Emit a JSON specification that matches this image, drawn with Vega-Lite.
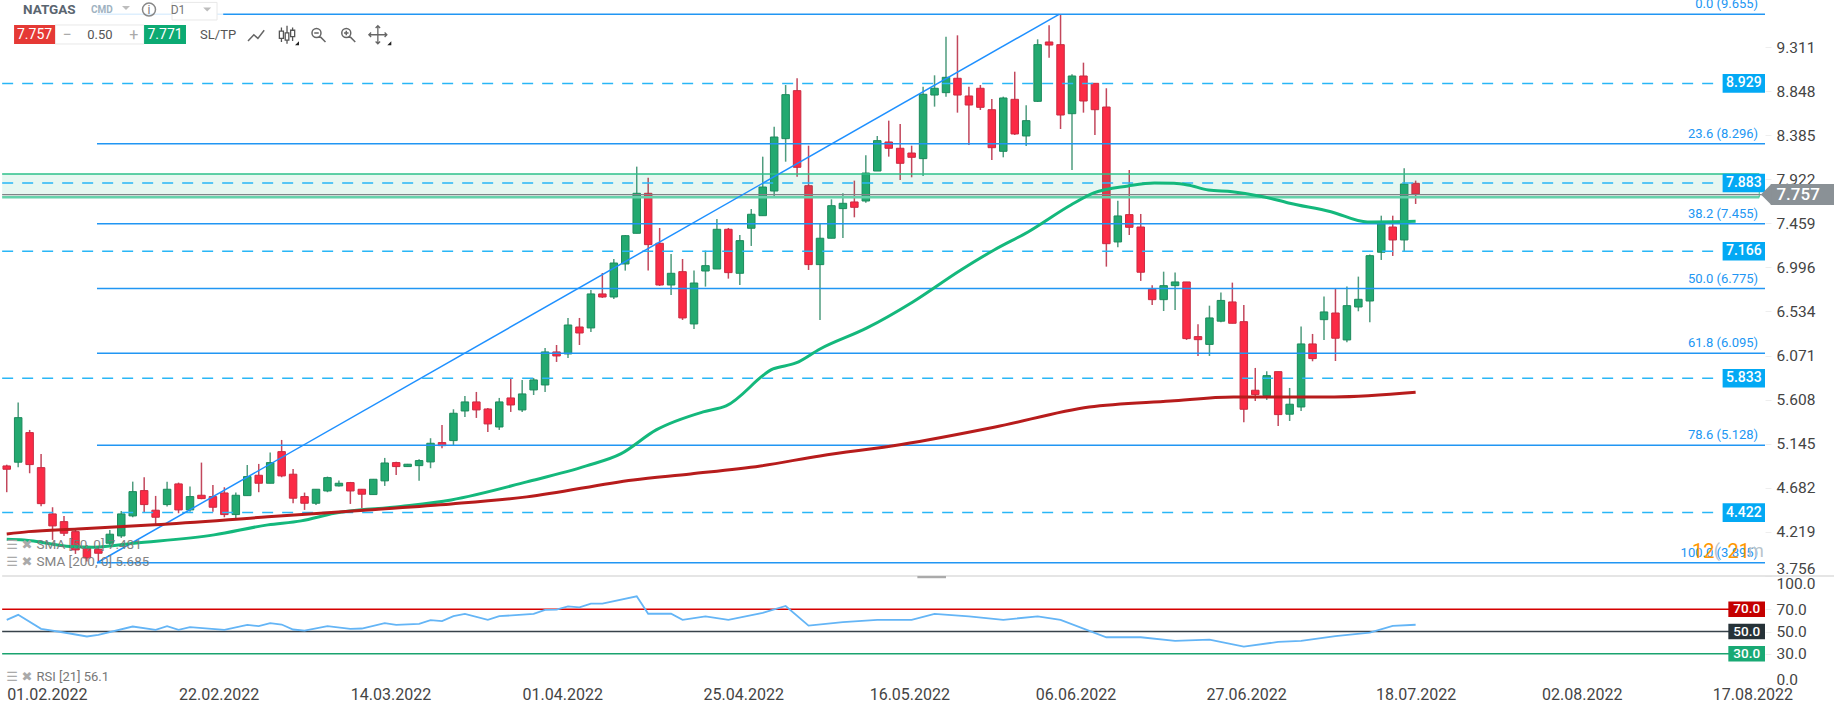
{
"$schema":"https://vega.github.io/schema/vega-lite/v6.json",
"background":"white","padding":0,"autosize":{"type":"pad"},"spacing":0,"bounds":"flush",
"config":{"view":{"stroke":null},"font":"Roboto","text":{"font":"Roboto"}},
"datasets":{
"candles":[
{"i":0,"d":"down","o":4.912,"h":4.925,"l":4.636,"c":4.877},{"i":1,"d":"up","o":4.951,"h":5.577,"l":4.898,"c":5.419},{"i":2,"d":"down","o":5.262,"h":5.29,"l":4.835,"c":4.926},{"i":3,"d":"down","o":4.894,"h":5.038,"l":4.489,"c":4.516},{"i":4,"d":"down","o":4.408,"h":4.478,"l":4.135,"c":4.282},{"i":5,"d":"down","o":4.327,"h":4.387,"l":4.177,"c":4.205},{"i":6,"d":"down","o":4.222,"h":4.24,"l":3.988,"c":4.03},{"i":7,"d":"down","o":4.051,"h":4.082,"l":3.907,"c":3.946},{"i":8,"d":"down","o":4.037,"h":4.061,"l":3.907,"c":3.995},{"i":9,"d":"up","o":4.1,"h":4.24,"l":4.082,"c":4.195},
{"i":10,"d":"up","o":4.177,"h":4.439,"l":4.156,"c":4.408},{"i":11,"d":"up","o":4.387,"h":4.747,"l":4.373,"c":4.642},{"i":12,"d":"down","o":4.653,"h":4.793,"l":4.422,"c":4.506},{"i":13,"d":"down","o":4.447,"h":4.597,"l":4.292,"c":4.373},{"i":14,"d":"up","o":4.506,"h":4.747,"l":4.485,"c":4.667},{"i":15,"d":"down","o":4.723,"h":4.737,"l":4.415,"c":4.45},{"i":16,"d":"up","o":4.45,"h":4.695,"l":4.432,"c":4.59},{"i":17,"d":"down","o":4.604,"h":4.947,"l":4.562,"c":4.569},{"i":18,"d":"down","o":4.59,"h":4.712,"l":4.432,"c":4.478},{"i":19,"d":"down","o":4.628,"h":4.688,"l":4.373,"c":4.401},
{"i":20,"d":"up","o":4.401,"h":4.632,"l":4.352,"c":4.604},{"i":21,"d":"up","o":4.6,"h":4.922,"l":4.6,"c":4.8},{"i":22,"d":"down","o":4.814,"h":4.933,"l":4.636,"c":4.73},{"i":23,"d":"up","o":4.73,"h":5.052,"l":4.73,"c":4.947},{"i":24,"d":"down","o":5.062,"h":5.185,"l":4.793,"c":4.807},{"i":25,"d":"down","o":4.825,"h":4.88,"l":4.52,"c":4.573},{"i":26,"d":"down","o":4.59,"h":4.632,"l":4.45,"c":4.52},{"i":27,"d":"up","o":4.52,"h":4.667,"l":4.502,"c":4.667},{"i":28,"d":"up","o":4.649,"h":4.8,"l":4.636,"c":4.789},{"i":29,"d":"up","o":4.702,"h":4.758,"l":4.695,"c":4.73},
{"i":30,"d":"down","o":4.737,"h":4.744,"l":4.513,"c":4.649},{"i":31,"d":"down","o":4.667,"h":4.67,"l":4.468,"c":4.615},{"i":32,"d":"up","o":4.611,"h":4.775,"l":4.611,"c":4.772},{"i":33,"d":"up","o":4.755,"h":4.996,"l":4.702,"c":4.943},{"i":34,"d":"down","o":4.947,"h":4.957,"l":4.817,"c":4.905},{"i":35,"d":"up","o":4.905,"h":4.933,"l":4.902,"c":4.93},{"i":36,"d":"up","o":4.915,"h":4.982,"l":4.755,"c":4.968},{"i":37,"d":"up","o":4.954,"h":5.203,"l":4.888,"c":5.15},{"i":38,"d":"down","o":5.157,"h":5.342,"l":5.098,"c":5.125},{"i":39,"d":"up","o":5.178,"h":5.507,"l":5.132,"c":5.465},
{"i":40,"d":"up","o":5.489,"h":5.647,"l":5.426,"c":5.584},{"i":41,"d":"down","o":5.584,"h":5.689,"l":5.416,"c":5.5},{"i":42,"d":"down","o":5.51,"h":5.521,"l":5.269,"c":5.353},{"i":43,"d":"up","o":5.321,"h":5.626,"l":5.29,"c":5.584},{"i":44,"d":"down","o":5.626,"h":5.836,"l":5.479,"c":5.552},{"i":45,"d":"up","o":5.5,"h":5.815,"l":5.479,"c":5.668},{"i":46,"d":"up","o":5.71,"h":5.836,"l":5.657,"c":5.815},{"i":47,"d":"up","o":5.762,"h":6.151,"l":5.689,"c":6.109},{"i":48,"d":"down","o":6.109,"h":6.182,"l":6.004,"c":6.067},{"i":49,"d":"up","o":6.088,"h":6.466,"l":6.046,"c":6.392},
{"i":50,"d":"down","o":6.371,"h":6.466,"l":6.182,"c":6.308},{"i":51,"d":"up","o":6.361,"h":6.76,"l":6.319,"c":6.718},{"i":52,"d":"down","o":6.718,"h":6.938,"l":6.676,"c":6.686},{"i":53,"d":"up","o":6.686,"h":7.085,"l":6.665,"c":7.043},{"i":54,"d":"up","o":7.033,"h":7.337,"l":6.963,"c":7.33},{"i":55,"d":"up","o":7.355,"h":8.055,"l":7.355,"c":7.775},{"i":56,"d":"down","o":7.775,"h":7.939,"l":6.963,"c":7.236},{"i":57,"d":"down","o":7.25,"h":7.411,"l":6.802,"c":6.812},{"i":58,"d":"up","o":6.812,"h":7.138,"l":6.707,"c":6.935},{"i":59,"d":"down","o":6.952,"h":7.085,"l":6.445,"c":6.466},
{"i":60,"d":"up","o":6.403,"h":6.963,"l":6.35,"c":6.833},{"i":61,"d":"up","o":6.959,"h":7.173,"l":6.795,"c":7.015},{"i":62,"d":"up","o":6.98,"h":7.505,"l":6.98,"c":7.397},{"i":63,"d":"down","o":7.397,"h":7.411,"l":6.879,"c":6.942},{"i":64,"d":"up","o":6.935,"h":7.337,"l":6.812,"c":7.278},{"i":65,"d":"up","o":7.408,"h":7.61,"l":7.222,"c":7.555},{"i":66,"d":"up","o":7.54,"h":8.16,"l":7.54,"c":7.841},{"i":67,"d":"up","o":7.799,"h":8.475,"l":7.733,"c":8.366},{"i":68,"d":"up","o":8.349,"h":8.912,"l":8.107,"c":8.811},{"i":69,"d":"down","o":8.853,"h":8.983,"l":7.95,"c":8.048},
{"i":70,"d":"down","o":7.855,"h":8.275,"l":6.97,"c":7.026},{"i":71,"d":"up","o":7.026,"h":7.453,"l":6.445,"c":7.303},{"i":72,"d":"up","o":7.303,"h":7.712,"l":7.303,"c":7.645},{"i":73,"d":"up","o":7.614,"h":7.775,"l":7.306,"c":7.67},{"i":74,"d":"down","o":7.684,"h":7.908,"l":7.523,"c":7.628},{"i":75,"d":"up","o":7.694,"h":8.174,"l":7.677,"c":7.988},{"i":76,"d":"up","o":8.009,"h":8.377,"l":8.009,"c":8.328},{"i":77,"d":"down","o":8.314,"h":8.538,"l":8.16,"c":8.248},{"i":78,"d":"down","o":8.248,"h":8.503,"l":7.915,"c":8.09},{"i":79,"d":"down","o":8.198,"h":8.275,"l":7.943,"c":8.153},
{"i":80,"d":"up","o":8.139,"h":8.895,"l":7.957,"c":8.815},{"i":81,"d":"up","o":8.807,"h":9.014,"l":8.685,"c":8.878},{"i":82,"d":"up","o":8.832,"h":9.42,"l":8.79,"c":8.993},{"i":83,"d":"down","o":8.983,"h":9.434,"l":8.622,"c":8.807},{"i":84,"d":"down","o":8.797,"h":8.895,"l":8.282,"c":8.702},{"i":85,"d":"down","o":8.878,"h":8.912,"l":8.65,"c":8.678},{"i":86,"d":"down","o":8.653,"h":8.765,"l":8.125,"c":8.254},{"i":87,"d":"up","o":8.216,"h":8.79,"l":8.153,"c":8.776},{"i":88,"d":"down","o":8.762,"h":9.052,"l":8.387,"c":8.398},{"i":89,"d":"up","o":8.377,"h":8.699,"l":8.272,"c":8.538},
{"i":90,"d":"up","o":8.741,"h":9.392,"l":8.734,"c":9.336},{"i":91,"d":"down","o":9.364,"h":9.539,"l":9.199,"c":9.332},{"i":92,"d":"down","o":9.336,"h":9.655,"l":8.45,"c":8.597},{"i":93,"d":"up","o":8.611,"h":9.025,"l":8.02,"c":9.007},{"i":94,"d":"down","o":9.007,"h":9.147,"l":8.622,"c":8.744},{"i":95,"d":"down","o":8.93,"h":8.93,"l":8.387,"c":8.653},{"i":96,"d":"down","o":8.681,"h":8.878,"l":7.005,"c":7.246},{"i":97,"d":"up","o":7.264,"h":7.698,"l":7.208,"c":7.537},{"i":98,"d":"down","o":7.551,"h":8.02,"l":7.337,"c":7.418},{"i":99,"d":"down","o":7.421,"h":7.558,"l":6.855,"c":6.946},
{"i":100,"d":"down","o":6.767,"h":6.809,"l":6.602,"c":6.658},{"i":101,"d":"up","o":6.658,"h":6.952,"l":6.539,"c":6.805},{"i":102,"d":"up","o":6.805,"h":6.942,"l":6.55,"c":6.844},{"i":103,"d":"down","o":6.844,"h":6.844,"l":6.235,"c":6.249},{"i":104,"d":"down","o":6.27,"h":6.4,"l":6.067,"c":6.238},{"i":105,"d":"up","o":6.188,"h":6.595,"l":6.067,"c":6.466},{"i":106,"d":"up","o":6.432,"h":6.732,"l":6.421,"c":6.65},{"i":107,"d":"down","o":6.634,"h":6.837,"l":6.41,"c":6.41},{"i":108,"d":"down","o":6.427,"h":6.602,"l":5.371,"c":5.507},{"i":109,"d":"down","o":5.707,"h":5.941,"l":5.594,"c":5.661},
{"i":110,"d":"up","o":5.65,"h":5.906,"l":5.605,"c":5.86},{"i":111,"d":"down","o":5.902,"h":5.902,"l":5.332,"c":5.451},{"i":112,"d":"up","o":5.455,"h":5.731,"l":5.384,"c":5.56},{"i":113,"d":"up","o":5.531,"h":6.375,"l":5.489,"c":6.193},{"i":114,"d":"down","o":6.193,"h":6.298,"l":6.011,"c":6.039},{"i":115,"d":"up","o":6.448,"h":6.69,"l":6.235,"c":6.529},{"i":116,"d":"down","o":6.518,"h":6.778,"l":6.014,"c":6.253},{"i":117,"d":"up","o":6.235,"h":6.795,"l":6.211,"c":6.595},{"i":118,"d":"up","o":6.581,"h":6.9,"l":6.536,"c":6.662},{"i":119,"d":"up","o":6.644,"h":7.131,"l":6.421,"c":7.12},
{"i":120,"d":"up","o":7.156,"h":7.54,"l":7.075,"c":7.453},{"i":121,"d":"down","o":7.421,"h":7.54,"l":7.117,"c":7.285},{"i":122,"d":"up","o":7.285,"h":8.038,"l":7.166,"c":7.873},{"i":123,"d":"down","o":7.88,"h":7.908,"l":7.663,"c":7.768}
],
"sma50":[{"i":0,"p":4.142},{"i":1.5,"p":4.135},{"i":5.6,"p":4.065},{"i":7.6,"p":4.058},{"i":11.1,"p":4.1},{"i":18.1,"p":4.188},{"i":22.8,"p":4.293},{"i":25.7,"p":4.335},{"i":28.6,"p":4.415},{"i":34.4,"p":4.485},{"i":38.8,"p":4.555},{"i":45.4,"p":4.744},{"i":50.6,"p":4.912},{"i":53.6,"p":5.038},{"i":56.7,"p":5.29},{"i":60.8,"p":5.479},{"i":62.8,"p":5.542},{"i":66.9,"p":5.93},{"i":68.9,"p":5.993},{"i":71,"p":6.14},{"i":75.1,"p":6.361},{"i":79.1,"p":6.634},{"i":83.3,"p":6.97},{"i":86.2,"p":7.18},{"i":89.2,"p":7.372},{"i":92.9,"p":7.652},{"i":94.9,"p":7.779},{"i":97.9,"p":7.852},{"i":100.2,"p":7.883},{"i":101.9,"p":7.88},{"i":103.1,"p":7.863},{"i":104.9,"p":7.81},{"i":107,"p":7.792},{"i":109.8,"p":7.737},{"i":111.9,"p":7.674},{"i":115.6,"p":7.582},{"i":118.8,"p":7.474},{"i":123,"p":7.481}],
"sma200":[{"i":0,"p":4.198},{"i":1.9,"p":4.222},{"i":6.2,"p":4.25},{"i":12.9,"p":4.293},{"i":22.8,"p":4.377},{"i":31.5,"p":4.45},{"i":38.8,"p":4.513},{"i":45.4,"p":4.587},{"i":54.7,"p":4.765},{"i":59.7,"p":4.828},{"i":65.8,"p":4.912},{"i":71,"p":5.017},{"i":78.1,"p":5.137},{"i":86.3,"p":5.321},{"i":94.5,"p":5.531},{"i":101.6,"p":5.594},{"i":107.1,"p":5.636},{"i":115.9,"p":5.636},{"i":123,"p":5.685}],
"rsi":[{"i":0,"v":60.5},{"i":1,"v":65},{"i":3,"v":52.4},{"i":5,"v":49.1},{"i":7,"v":45.5},{"i":8,"v":47},{"i":11,"v":54.5},{"i":13,"v":51.5},{"i":14,"v":54.8},{"i":15,"v":51.5},{"i":16,"v":53.9},{"i":19,"v":51.5},{"i":21,"v":56},{"i":22,"v":54.8},{"i":23,"v":57.5},{"i":24,"v":56.3},{"i":25,"v":51.8},{"i":26,"v":50.8},{"i":28,"v":54.8},{"i":30,"v":52.4},{"i":31,"v":52.7},{"i":33,"v":57.5},{"i":34,"v":56},{"i":36,"v":56.9},{"i":37,"v":60.2},{"i":38,"v":59.3},{"i":39,"v":63.8},{"i":40,"v":65.8},{"i":42,"v":60.5},{"i":43,"v":63.8},{"i":46,"v":65.8},{"i":47,"v":69.4},{"i":48,"v":69.7},{"i":49,"v":72.7},{"i":50,"v":71.8},{"i":51,"v":75.1},{"i":52,"v":75.1},{"i":55,"v":81.7},{"i":56,"v":66},{"i":58,"v":66},{"i":59,"v":60.5},{"i":61,"v":63.7},{"i":63,"v":60.5},{"i":66,"v":66.8},{"i":68,"v":73},{"i":70,"v":55.3},{"i":73,"v":58.4},{"i":76,"v":60.5},{"i":79,"v":60.5},{"i":81,"v":65.8},{"i":84,"v":63.7},{"i":87,"v":60.5},{"i":90,"v":63.7},{"i":92,"v":60.5},{"i":96,"v":44.8},{"i":99,"v":44.8},{"i":102,"v":41.6},{"i":105,"v":42.6},{"i":108,"v":36.4},{"i":111,"v":40.6},{"i":113,"v":41.6},{"i":116,"v":45.8},{"i":119,"v":49},{"i":121,"v":55},{"i":123,"v":56.1}],
"fib":[{"i":7.88,"i2":153.5,"tx":152.9,"p":9.655,"label":"0.0 (9.655)"},{"i":7.88,"i2":153.5,"tx":152.9,"p":8.296,"label":"23.6 (8.296)"},{"i":7.88,"i2":153.5,"tx":152.9,"p":7.455,"label":"38.2 (7.455)"},{"i":7.88,"i2":153.5,"tx":152.9,"p":6.775,"label":"50.0 (6.775)"},{"i":7.88,"i2":153.5,"tx":152.9,"p":6.095,"label":"61.8 (6.095)"},{"i":7.88,"i2":153.5,"tx":152.9,"p":5.128,"label":"78.6 (5.128)"},{"i":7.88,"i2":153.5,"tx":152.9,"p":3.895,"label":"100.0 (3.895)"}],
"levels":[{"i":-0.4,"i2":149.4,"box":149.8,"box2":153.5,"mid":151.65,"p":8.929,"lo":8.831,"hi":9.027,"label":"8.929"},{"i":-0.4,"i2":149.4,"box":149.8,"box2":153.5,"mid":151.65,"p":7.883,"lo":7.785,"hi":7.981,"label":"7.883"},{"i":-0.4,"i2":149.4,"box":149.8,"box2":153.5,"mid":151.65,"p":7.166,"lo":7.068,"hi":7.264,"label":"7.166"},{"i":-0.4,"i2":149.4,"box":149.8,"box2":153.5,"mid":151.65,"p":5.833,"lo":5.735,"hi":5.931,"label":"5.833"},{"i":-0.4,"i2":149.4,"box":149.8,"box2":153.5,"mid":151.65,"p":4.422,"lo":4.324,"hi":4.52,"label":"4.422"}]
},
"vconcat":[
{"width":1764,"height":576,
"resolve":{"axis":{"y":"independent"}},
"encoding":{"x":{"field":"i","type":"quantitative","title":null,"scale":{"domain":[-0.5,153.5],"nice":false,"zero":false,"padding":0},"axis":null}},
"layer":[
{"data":{"name":"candles"},"mark":{"type":"rule","strokeWidth":1.5},
 "encoding":{"y":{"field":"l","type":"quantitative","title":null,"axis":null,"scale":{"domain":[3.756,9.805],"nice":false,"zero":false}},"y2":{"field":"h"},"color":{"field":"d","type":"nominal","legend":null,"scale":{"domain":["up","down"],"range":["#4f9c7e","#c2475c"]}}}},
{"data":{"name":"candles"},"mark":{"type":"bar","width":7.5,"strokeWidth":1},
 "encoding":{"y":{"field":"o","type":"quantitative","title":null,"axis":null,"scale":{"domain":[3.756,9.805],"nice":false,"zero":false}},"y2":{"field":"c"},"fill":{"field":"d","type":"nominal","legend":null,"scale":{"domain":["up","down"],"range":["#23a970","#fb2a45"]}},"stroke":{"field":"d","type":"nominal","legend":null,"scale":{"domain":["up","down"],"range":["#1c8a5c","#c92b42"]}}}},
{"data":{"values":[{"i":-0.4,"i2":153,"a":7.978,"b":7.733}]},"mark":{"type":"rect","fill":"#14b47a","fillOpacity":0.1},
 "encoding":{"x2":{"field":"i2"},"y":{"field":"a","type":"quantitative","title":null,"axis":null,"scale":{"domain":[3.756,9.805],"nice":false,"zero":false}},"y2":{"field":"b"}}},
{"data":{"values":[{"i":-0.4,"i2":153,"a":7.978}]},"mark":{"type":"rule","stroke":"#2cc08a","strokeWidth":1.5},
 "encoding":{"x2":{"field":"i2"},"y":{"field":"a","type":"quantitative","title":null,"axis":null,"scale":{"domain":[3.756,9.805],"nice":false,"zero":false}}}},
{"data":{"values":[{"i":-0.4,"i2":153,"a":7.733}]},"mark":{"type":"rule","stroke":"#66d2ab","strokeWidth":2.5},
 "encoding":{"x2":{"field":"i2"},"y":{"field":"a","type":"quantitative","title":null,"axis":null,"scale":{"domain":[3.756,9.805],"nice":false,"zero":false}}}},
{"data":{"values":[{"i":153,"a":7.978,"b":7.733}]},"mark":{"type":"rule","stroke":"#3cc291","strokeWidth":1},
 "encoding":{"y":{"field":"a","type":"quantitative","title":null,"axis":null,"scale":{"domain":[3.756,9.805],"nice":false,"zero":false}},"y2":{"field":"b"}}},
{"data":{"values":[{"i":-0.4,"i2":153.5,"p":7.762}]},"mark":{"type":"rule","stroke":"#808488","strokeWidth":1.2},
 "encoding":{"x2":{"field":"i2"},"y":{"field":"p","type":"quantitative","title":null,
   "scale":{"domain":[3.756,9.805],"nice":false,"zero":false},
   "axis":{"orient":"right","values":[9.311,8.848,8.385,7.922,7.459,6.996,6.534,6.071,5.608,5.145,4.682,4.219,3.756],"format":".3f","grid":false,"domain":false,"tickColor":"#eeeeee","tickSize":6,"labelPadding":5,"labelFontSize":15.5,"labelFont":"Roboto","labelColor":"#444444","labelFlush":true,"labelOverlap":false,"title":null}}}},
{"data":{"name":"levels"},"mark":{"type":"rule","stroke":"#29b6f6","strokeWidth":1.5,"strokeDash":[11,9]},
 "encoding":{"x2":{"field":"i2"},"y":{"field":"p","type":"quantitative","title":null,"axis":null,"scale":{"domain":[3.756,9.805],"nice":false,"zero":false}}}},
{"data":{"name":"fib"},"mark":{"type":"rule","stroke":"#2196f3","strokeWidth":1.5},
 "encoding":{"x2":{"field":"i2"},"y":{"field":"p","type":"quantitative","title":null,"axis":null,"scale":{"domain":[3.756,9.805],"nice":false,"zero":false}}}},
{"data":{"values":[{"i":7.88,"p":3.895},{"i":91.87,"p":9.655}]},"mark":{"type":"line","stroke":"#1e90ff","strokeWidth":1.5},
 "encoding":{"y":{"field":"p","type":"quantitative","title":null,"axis":null,"scale":{"domain":[3.756,9.805],"nice":false,"zero":false}}}},
{"data":{"name":"sma50"},"mark":{"type":"line","stroke":"#14b87c","strokeWidth":3,"interpolate":"monotone"},
 "encoding":{"y":{"field":"p","type":"quantitative","title":null,"axis":null,"scale":{"domain":[3.756,9.805],"nice":false,"zero":false}}}},
{"data":{"name":"sma200"},"mark":{"type":"line","stroke":"#b71c1c","strokeWidth":3,"interpolate":"monotone"},
 "encoding":{"y":{"field":"p","type":"quantitative","title":null,"axis":null,"scale":{"domain":[3.756,9.805],"nice":false,"zero":false}}}},
{"data":{"name":"fib"},"mark":{"type":"text","clip":true,"align":"right","baseline":"bottom","dy":-3,"color":"#2196f3","fontSize":13,"font":"Roboto"},
 "encoding":{"x":{"field":"tx","type":"quantitative"},"y":{"field":"p","type":"quantitative","title":null,"axis":null,"scale":{"domain":[3.756,9.805],"nice":false,"zero":false}},"text":{"field":"label"}}},
{"data":{"name":"levels"},"mark":{"type":"rect","fill":"#03a9f4"},
 "encoding":{"x":{"field":"box","type":"quantitative"},"x2":{"field":"box2"},"y":{"field":"lo","type":"quantitative","title":null,"axis":null,"scale":{"domain":[3.756,9.805],"nice":false,"zero":false}},"y2":{"field":"hi"}}},
{"data":{"name":"levels"},"mark":{"type":"text","color":"white","fontSize":14,"fontWeight":500,"font":"Roboto"},
 "encoding":{"x":{"field":"mid","type":"quantitative"},"y":{"field":"p","type":"quantitative","title":null,"axis":null,"scale":{"domain":[3.756,9.805],"nice":false,"zero":false}},"text":{"field":"label"}}},
{"data":{"values":[{"i":154,"i2":159.55,"a":7.873,"b":7.653}]},"mark":{"type":"rect","fill":"#8a9196"},
 "encoding":{"x2":{"field":"i2"},"y":{"field":"a","type":"quantitative","title":null,"axis":null,"scale":{"domain":[3.756,9.805],"nice":false,"zero":false}},"y2":{"field":"b"}}},
{"data":{"values":[{"i":153.6,"p":7.763}]},"mark":{"type":"point","filled":true,"fill":"#8a9196","stroke":null,"opacity":1,"size":441,"shape":"M-0.5 0L0.5 -1L0.5 1Z"},
 "encoding":{"y":{"field":"p","type":"quantitative","title":null,"axis":null,"scale":{"domain":[3.756,9.805],"nice":false,"zero":false}}}},
{"data":{"values":[{"i":154.5,"p":7.757,"t":"7.757"}]},"mark":{"type":"text","align":"left","color":"white","fontSize":17,"fontWeight":500,"font":"Roboto"},
 "encoding":{"y":{"field":"p","type":"quantitative","title":null,"axis":null,"scale":{"domain":[3.756,9.805],"nice":false,"zero":false}},"text":{"field":"t"}}},
{"data":{"values":[{"i":148.1,"p":4.012,"t":"12"},{"i":151.2,"p":4.012,"t":"21"}]},"mark":{"type":"text","color":"#ff9800","fontSize":20,"font":"Roboto"},
 "encoding":{"y":{"field":"p","type":"quantitative","title":null,"axis":null,"scale":{"domain":[3.756,9.805],"nice":false,"zero":false}},"text":{"field":"t"}}},
{"data":{"values":[{"i":149.3,"p":4.012,"t":"("},{"i":152.7,"p":4.012,"t":"m"}]},"mark":{"type":"text","color":"#b8c4cc","fontSize":18,"font":"Roboto"},
 "encoding":{"y":{"field":"p","type":"quantitative","title":null,"axis":null,"scale":{"domain":[3.756,9.805],"nice":false,"zero":false}},"text":{"field":"t"}}},
{"data":{"values":[{"i":2.6,"p":4.083,"t":"SMA [50, 0] 7.481"},{"i":2.6,"p":3.907,"t":"SMA [200, 0] 5.685"}]},"mark":{"type":"text","align":"left","color":"#777777","opacity":0.9,"fontSize":13.5,"font":"Roboto"},
 "encoding":{"y":{"field":"p","type":"quantitative","title":null,"axis":null,"scale":{"domain":[3.756,9.805],"nice":false,"zero":false}},"text":{"field":"t"}}},
{"data":{"values":[{"i":0.46,"p":4.083,"t":"☰"},{"i":0.46,"p":3.907,"t":"☰"},{"i":1.77,"p":4.083,"t":"✖"},{"i":1.77,"p":3.907,"t":"✖"}]},"mark":{"type":"text","color":"#aaaaaa","fontSize":13,"font":"DejaVu Sans"},
 "encoding":{"y":{"field":"p","type":"quantitative","title":null,"axis":null,"scale":{"domain":[3.756,9.805],"nice":false,"zero":false}},"text":{"field":"t"}}},
{"data":{"values":[{"i":-0.4,"i2":18.9,"a":9.805,"b":9.574}]},"mark":{"type":"rect","fill":"white","opacity":0.85},
 "encoding":{"x2":{"field":"i2"},"y":{"field":"a","type":"quantitative","title":null,"axis":null,"scale":{"domain":[3.756,9.805],"nice":false,"zero":false}},"y2":{"field":"b"}}},
{"data":{"values":[{"i":14.43,"i2":18.36,"a":9.78,"b":9.595},{"i":4.22,"i2":11.99,"a":9.5425,"b":9.343}]},"mark":{"type":"rect","fill":"white","stroke":"#e8e8e8","strokeWidth":1},
 "encoding":{"x2":{"field":"i2"},"y":{"field":"a","type":"quantitative","title":null,"axis":null,"scale":{"domain":[3.756,9.805],"nice":false,"zero":false}},"y2":{"field":"b"}}},
{"data":{"values":[{"i":0.64,"i2":4.22,"a":9.5425,"b":9.343}]},"mark":{"type":"rect","fill":"#e53935"},
 "encoding":{"x2":{"field":"i2"},"y":{"field":"a","type":"quantitative","title":null,"axis":null,"scale":{"domain":[3.756,9.805],"nice":false,"zero":false}},"y2":{"field":"b"}}},
{"data":{"values":[{"i":11.99,"i2":15.65,"a":9.5425,"b":9.343}]},"mark":{"type":"rect","fill":"#0caa73"},
 "encoding":{"x2":{"field":"i2"},"y":{"field":"a","type":"quantitative","title":null,"axis":null,"scale":{"domain":[3.756,9.805],"nice":false,"zero":false}},"y2":{"field":"b"}}},
{"data":{"values":[{"i":2.43,"p":9.44,"t":"7.757"},{"i":13.82,"p":9.44,"t":"7.771"}]},"mark":{"type":"text","color":"white","fontSize":14,"font":"Roboto"},
 "encoding":{"y":{"field":"p","type":"quantitative","title":null,"axis":null,"scale":{"domain":[3.756,9.805],"nice":false,"zero":false}},"text":{"field":"t"}}},
{"data":{"values":[{"i":8.14,"p":9.44,"t":"0.50"},{"i":18.45,"p":9.44,"t":"SL/TP"}]},"mark":{"type":"text","color":"#555555","fontSize":13,"font":"Roboto"},
 "encoding":{"y":{"field":"p","type":"quantitative","title":null,"axis":null,"scale":{"domain":[3.756,9.805],"nice":false,"zero":false}},"text":{"field":"t"}}},
{"data":{"values":[{"i":5.27,"p":9.44,"t":"−"},{"i":11.1,"p":9.44,"t":"+"}]},"mark":{"type":"text","color":"#aaaaaa","fontSize":16,"font":"Roboto"},
 "encoding":{"y":{"field":"p","type":"quantitative","title":null,"axis":null,"scale":{"domain":[3.756,9.805],"nice":false,"zero":false}},"text":{"field":"t"}}},
{"data":{"values":[{"i":1.42,"p":9.705,"t":"NATGAS"}]},"mark":{"type":"text","align":"left","color":"#5a6570","fontSize":13.5,"fontWeight":"bold","font":"Roboto"},
 "encoding":{"y":{"field":"p","type":"quantitative","title":null,"axis":null,"scale":{"domain":[3.756,9.805],"nice":false,"zero":false}},"text":{"field":"t"}}},
{"data":{"values":[{"i":7.36,"p":9.705,"t":"CMD"}]},"mark":{"type":"text","align":"left","color":"#9fb3c2","fontSize":10,"fontWeight":"bold","font":"Roboto"},
 "encoding":{"y":{"field":"p","type":"quantitative","title":null,"axis":null,"scale":{"domain":[3.756,9.805],"nice":false,"zero":false}},"text":{"field":"t"}}},
{"data":{"values":[{"i":14.95,"p":9.705,"t":"D1"},{"i":12.42,"p":9.705,"t":"i"}]},"mark":{"type":"text","color":"#777777","fontSize":12,"font":"Roboto"},
 "encoding":{"y":{"field":"p","type":"quantitative","title":null,"axis":null,"scale":{"domain":[3.756,9.805],"nice":false,"zero":false}},"text":{"field":"t"}}},
{"data":{"values":[{"i":10.41,"p":9.72},{"i":17.5,"p":9.705}]},"mark":{"type":"point","filled":true,"fill":"#bdbdbd","stroke":null,"opacity":1,"size":100,"shape":"M-0.8 -0.4L0.8 -0.4L0 0.4Z"},
 "encoding":{"y":{"field":"p","type":"quantitative","title":null,"axis":null,"scale":{"domain":[3.756,9.805],"nice":false,"zero":false}}}},
{"data":{"values":[{"i":25.34,"p":9.35},{"i":33.4,"p":9.35}]},"mark":{"type":"point","filled":true,"fill":"#222222","stroke":null,"opacity":1,"size":16,"shape":"M1 -1L1 1L-1 1Z"},
 "encoding":{"y":{"field":"p","type":"quantitative","title":null,"axis":null,"scale":{"domain":[3.756,9.805],"nice":false,"zero":false}}}},
{"data":{"values":[{"i":12.42,"p":9.705}]},"mark":{"type":"point","shape":"circle","filled":false,"stroke":"#888888","strokeWidth":1.5,"opacity":1,"size":170},
 "encoding":{"y":{"field":"p","type":"quantitative","title":null,"axis":null,"scale":{"domain":[3.756,9.805],"nice":false,"zero":false}}}},
{"data":{"values":[{"i":21.85,"p":9.44}]},"mark":{"type":"point","filled":false,"stroke":"#666666","strokeWidth":1.5,"opacity":1,"size":324,"shape":"M-1 0.7L-0.35 0L0.1 0.4L0.8 -0.5"},
 "encoding":{"y":{"field":"p","type":"quantitative","title":null,"axis":null,"scale":{"domain":[3.756,9.805],"nice":false,"zero":false}}}},
{"data":{"values":[{"i":24.47,"p":9.44}]},"mark":{"type":"point","filled":false,"stroke":"#555555","strokeWidth":1.3,"opacity":1,"size":324,"shape":"M-0.85 -0.4H-0.4V0.4H-0.85ZM-0.62 -0.8V-0.4M-0.62 0.4V0.8M-0.2 -0.2H0.2V0.6H-0.2ZM0 -1V-0.2M0 0.6V1M0.4 -0.5H0.85V0.2H0.4ZM0.62 -0.8V-0.5M0.62 0.2V0.7"},
 "encoding":{"y":{"field":"p","type":"quantitative","title":null,"axis":null,"scale":{"domain":[3.756,9.805],"nice":false,"zero":false}}}},
{"data":{"values":[{"i":27.2,"p":9.44}]},"mark":{"type":"point","filled":false,"stroke":"#666666","strokeWidth":1.5,"opacity":1,"size":324,"shape":"M0.3 -0.2A0.5 0.5 0 1 1 -0.7 -0.2A0.5 0.5 0 1 1 0.3 -0.2M0.15 0.15L0.8 0.8M-0.45 -0.2H0.05"},
 "encoding":{"y":{"field":"p","type":"quantitative","title":null,"axis":null,"scale":{"domain":[3.756,9.805],"nice":false,"zero":false}}}},
{"data":{"values":[{"i":29.8,"p":9.44}]},"mark":{"type":"point","filled":false,"stroke":"#666666","strokeWidth":1.5,"opacity":1,"size":324,"shape":"M0.3 -0.2A0.5 0.5 0 1 1 -0.7 -0.2A0.5 0.5 0 1 1 0.3 -0.2M0.15 0.15L0.8 0.8M-0.45 -0.2H0.05M-0.2 -0.45V0.05"},
 "encoding":{"y":{"field":"p","type":"quantitative","title":null,"axis":null,"scale":{"domain":[3.756,9.805],"nice":false,"zero":false}}}},
{"data":{"values":[{"i":32.4,"p":9.44}]},"mark":{"type":"point","filled":false,"stroke":"#666666","strokeWidth":1.3,"opacity":1,"size":324,"shape":"M-1 0H1M0 -1V1M-0.25 -0.75L0 -1L0.25 -0.75M-0.25 0.75L0 1L0.25 0.75M-0.75 -0.25L-1 0L-0.75 0.25M0.75 -0.25L1 0L0.75 0.25"},
 "encoding":{"y":{"field":"p","type":"quantitative","title":null,"axis":null,"scale":{"domain":[3.756,9.805],"nice":false,"zero":false}}}}
]},
{"width":1764,"height":111,
"resolve":{"axis":{"y":"independent"}},
"encoding":{"x":{"field":"i","type":"quantitative","title":null,"scale":{"domain":[-0.5,153.5],"nice":false,"zero":false,"padding":0},
 "axis":{"orient":"bottom","values":[3.5,18.5,33.5,48.5,64.3,78.8,93.3,108.2,123,137.5,152.4],"labelExpr":"{'3.5':'01.02.2022','18.5':'22.02.2022','33.5':'14.03.2022','48.5':'01.04.2022','64.3':'25.04.2022','78.8':'16.05.2022','93.3':'06.06.2022','108.2':'27.06.2022','123':'18.07.2022','137.5':'02.08.2022','152.4':'17.08.2022'}[''+datum.value]","ticks":false,"domain":false,"grid":false,"labelFontSize":16,"labelFont":"Roboto","labelColor":"#444444","labelOverlap":false,"labelFlush":false,"labelBound":false,"labelPadding":-1,"title":null}}},
"layer":[
{"data":{"values":[{"i":-0.4,"i2":159.55,"v":100}]},"mark":{"type":"rule","stroke":"#dddddd","strokeWidth":1.5},
 "encoding":{"x2":{"field":"i2"},"y":{"field":"v","type":"quantitative","title":null,"scale":{"domain":[0,100],"nice":false,"zero":false},
  "axis":{"orient":"right","values":[100,70,50,30,0],"format":".1f","grid":false,"domain":false,"tickColor":"#eeeeee","tickSize":6,"labelPadding":5,"labelFontSize":15.5,"labelFont":"Roboto","labelColor":"#444444","labelFlush":true,"labelOverlap":false,"title":null}}}},
{"data":{"values":[{"i":79.5,"i2":82,"a":100,"b":98}]},"mark":{"type":"rect","fill":"#aaaaaa"},
 "encoding":{"x2":{"field":"i2"},"y":{"field":"a","type":"quantitative","title":null,"axis":null,"scale":{"domain":[0,100],"nice":false,"zero":false}},"y2":{"field":"b"}}},
{"data":{"values":[{"i":-0.4,"i2":153.5,"v":70}]},"mark":{"type":"rule","stroke":"#d50000","strokeWidth":1.5},
 "encoding":{"x2":{"field":"i2"},"y":{"field":"v","type":"quantitative","title":null,"axis":null,"scale":{"domain":[0,100],"nice":false,"zero":false}}}},
{"data":{"values":[{"i":-0.4,"i2":153.5,"v":50}]},"mark":{"type":"rule","stroke":"#37424a","strokeWidth":1.5},
 "encoding":{"x2":{"field":"i2"},"y":{"field":"v","type":"quantitative","title":null,"axis":null,"scale":{"domain":[0,100],"nice":false,"zero":false}}}},
{"data":{"values":[{"i":-0.4,"i2":153.5,"v":30}]},"mark":{"type":"rule","stroke":"#1aa36f","strokeWidth":1.5},
 "encoding":{"x2":{"field":"i2"},"y":{"field":"v","type":"quantitative","title":null,"axis":null,"scale":{"domain":[0,100],"nice":false,"zero":false}}}},
{"data":{"name":"rsi"},"mark":{"type":"line","stroke":"#64b5f6","strokeWidth":1.8},
 "encoding":{"y":{"field":"v","type":"quantitative","title":null,"axis":null,"scale":{"domain":[0,100],"nice":false,"zero":false}}}},
{"data":{"values":[{"i":150.3,"i2":153.5,"a":77,"b":63}]},"mark":{"type":"rect","fill":"#c40000"},
 "encoding":{"x2":{"field":"i2"},"y":{"field":"a","type":"quantitative","title":null,"axis":null,"scale":{"domain":[0,100],"nice":false,"zero":false}},"y2":{"field":"b"}}},
{"data":{"values":[{"i":150.3,"i2":153.5,"a":57,"b":43}]},"mark":{"type":"rect","fill":"#263238"},
 "encoding":{"x2":{"field":"i2"},"y":{"field":"a","type":"quantitative","title":null,"axis":null,"scale":{"domain":[0,100],"nice":false,"zero":false}},"y2":{"field":"b"}}},
{"data":{"values":[{"i":150.3,"i2":153.5,"a":37,"b":23}]},"mark":{"type":"rect","fill":"#19a974"},
 "encoding":{"x2":{"field":"i2"},"y":{"field":"a","type":"quantitative","title":null,"axis":null,"scale":{"domain":[0,100],"nice":false,"zero":false}},"y2":{"field":"b"}}},
{"data":{"values":[{"i":151.9,"v":70,"t":"70.0"},{"i":151.9,"v":50,"t":"50.0"},{"i":151.9,"v":30,"t":"30.0"}]},"mark":{"type":"text","color":"white","fontSize":13.5,"fontWeight":500,"font":"Roboto"},
 "encoding":{"y":{"field":"v","type":"quantitative","title":null,"axis":null,"scale":{"domain":[0,100],"nice":false,"zero":false}},"text":{"field":"t"}}},
{"data":{"values":[{"i":2.6,"v":9.3,"t":"RSI [21] 56.1"}]},"mark":{"type":"text","align":"left","color":"#777777","fontSize":13,"font":"Roboto"},
 "encoding":{"y":{"field":"v","type":"quantitative","title":null,"axis":null,"scale":{"domain":[0,100],"nice":false,"zero":false}},"text":{"field":"t"}}},
{"data":{"values":[{"i":0.46,"v":9.3,"t":"☰"},{"i":1.77,"v":9.3,"t":"✖"}]},"mark":{"type":"text","color":"#aaaaaa","fontSize":13,"font":"DejaVu Sans"},
 "encoding":{"y":{"field":"v","type":"quantitative","title":null,"axis":null,"scale":{"domain":[0,100],"nice":false,"zero":false}},"text":{"field":"t"}}}
]}
]}
